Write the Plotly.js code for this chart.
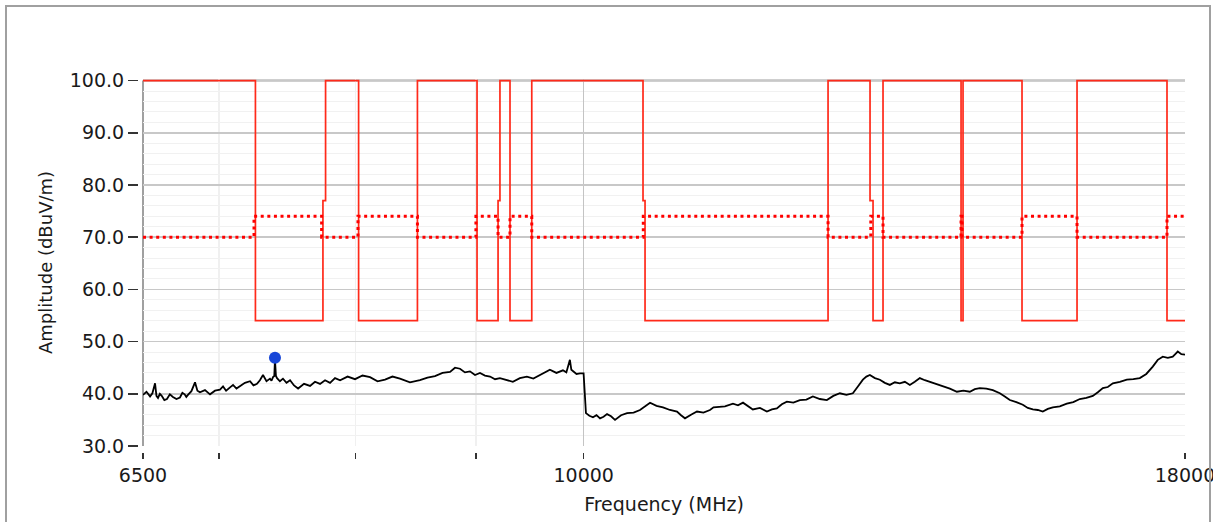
<!DOCTYPE html>
<html>
<head>
<meta charset="utf-8">
<script src="https://cdn.plot.ly/plotly-3.0.1.min.js"></script>
<style>html,body{margin:0;padding:0;background:#fff;}#chart{width:1213px;height:522px;}</style>
</head>
<body>
<div id="chart"></div>
<script>
// ---- data ----
const limitFreq = [6500, 7255, 7255, 7750, 7750, 7770, 7770, 8025, 8025, 8500, 8500, 9010, 9010, 9197, 9197, 9214, 9214, 9305, 9305, 9505, 9505, 10597, 10597, 10618, 10618, 12698, 12698, 13230, 13230, 13269, 13269, 13399, 13399, 14461, 14461, 14489, 14489, 15349, 15349, 16197, 16197, 17686, 17686, 18000];
const limitLevel = [100, 100, 54, 54, 77, 77, 100, 100, 54, 54, 100, 100, 54, 54, 77, 77, 100, 100, 54, 54, 100, 100, 77, 77, 54, 54, 100, 100, 77, 77, 54, 54, 100, 100, 54, 54, 100, 100, 54, 54, 100, 100, 54, 54];

const avgFreq = [6500, 7245, 7245, 7740, 7740, 8020, 8020, 8500, 8500, 9000, 9000, 9197, 9197, 9305, 9305, 9505, 9505, 10600, 10600, 12698, 12698, 13240, 13240, 13399, 13399, 14461, 14461, 14475, 14475, 15349, 15349, 16197, 16197, 17686, 17686, 18000];
const avgLevel = [70, 70, 74, 74, 70, 70, 74, 74, 70, 70, 74, 74, 70, 70, 74, 74, 70, 70, 74, 74, 70, 70, 74, 74, 70, 70, 74, 74, 70, 70, 74, 74, 70, 70, 74, 74];

const measFreq = [6500, 6522, 6545, 6560, 6577, 6586, 6596, 6608, 6620, 6637, 6654, 6673, 6693, 6716, 6739, 6755, 6770, 6781, 6792, 6815, 6839, 6855, 6872, 6906, 6940, 6974, 7008, 7029, 7050, 7074, 7098, 7122, 7146, 7181, 7217, 7241, 7266, 7287, 7309, 7334, 7359, 7370, 7381, 7390, 7395, 7402, 7410, 7431, 7453, 7479, 7505, 7534, 7564, 7608, 7653, 7690, 7728, 7766, 7804, 7842, 7881, 7939, 7997, 8056, 8115, 8175, 8235, 8295, 8356, 8438, 8521, 8584, 8647, 8711, 8775, 8818, 8861, 8904, 8948, 8992, 9036, 9080, 9125, 9170, 9214, 9272, 9331, 9395, 9460, 9520, 9581, 9628, 9675, 9737, 9799, 9832, 9866, 9880, 9895, 9930, 9964, 9999, 10022, 10056, 10091, 10126, 10161, 10196, 10231, 10271, 10311, 10372, 10433, 10500, 10566, 10618, 10670, 10738, 10806, 10880, 10955, 10998, 11041, 11106, 11171, 11242, 11314, 11353, 11392, 11481, 11571, 11628, 11685, 11741, 11798, 11880, 11961, 12020, 12078, 12137, 12197, 12275, 12353, 12432, 12511, 12597, 12683, 12764, 12846, 12928, 13010, 13074, 13138, 13183, 13228, 13293, 13358, 13423, 13489, 13555, 13621, 13688, 13755, 13822, 13890, 13958, 14027, 14116, 14206, 14304, 14402, 14494, 14586, 14657, 14729, 14823, 14917, 14968, 15020, 15093, 15167, 15264, 15361, 15436, 15512, 15588, 15664, 15741, 15818, 15927, 16036, 16138, 16241, 16345, 16449, 16530, 16611, 16692, 16774, 16889, 17005, 17113, 17222, 17332, 17442, 17527, 17613, 17700, 17786, 17830, 17873, 17936, 18000];
const measLevel = [39.8, 40.4, 39.5, 40.1, 42.0, 39.6, 39.2, 40.0, 39.6, 38.8, 39.0, 39.9, 39.4, 39.0, 39.3, 40.2, 39.9, 39.4, 39.8, 40.5, 42.2, 40.6, 40.3, 40.7, 39.9, 40.6, 40.8, 41.4, 40.6, 41.1, 41.7, 41.0, 41.4, 42.1, 42.4, 41.6, 41.9, 42.6, 43.6, 42.4, 42.9, 42.5, 43.2, 43.4, 46.5, 43.4, 43.0, 42.4, 42.9, 42.1, 42.6, 41.6, 41.0, 41.9, 41.5, 42.3, 41.9, 42.6, 42.1, 43.0, 42.6, 43.3, 42.8, 43.5, 43.2, 42.4, 42.7, 43.3, 42.9, 42.2, 42.6, 43.1, 43.4, 44.0, 44.2, 45.0, 44.8, 44.1, 44.3, 43.6, 44.0, 43.5, 43.3, 42.8, 43.0, 42.6, 42.3, 43.0, 43.3, 42.9, 43.6, 44.1, 44.6, 44.0, 44.5, 44.1, 46.5, 44.6, 44.4, 43.8, 43.9, 43.9, 36.3, 35.8, 35.5, 35.9, 35.3, 35.6, 36.1, 35.7, 35.0, 35.9, 36.3, 36.4, 36.9, 37.6, 38.3, 37.7, 37.4, 36.9, 36.6, 35.9, 35.3, 36.0, 36.6, 36.4, 36.9, 37.4, 37.5, 37.6, 38.1, 37.8, 38.3, 37.6, 37.0, 37.3, 36.6, 37.0, 37.2, 38.0, 38.5, 38.3, 38.8, 38.9, 39.5, 39.0, 38.8, 39.6, 40.1, 39.8, 40.1, 41.4, 42.7, 43.3, 43.6, 43.0, 42.7, 42.1, 41.7, 42.2, 42.0, 42.3, 41.7, 42.3, 43.0, 42.6, 42.3, 41.8, 41.4, 41.0, 40.4, 40.6, 40.4, 40.9, 41.1, 41.0, 40.7, 40.4, 40.1, 39.5, 38.8, 38.4, 37.9, 37.3, 37.0, 36.9, 36.6, 37.1, 37.4, 37.6, 38.1, 38.4, 39.0, 39.2, 39.6, 40.3, 41.1, 41.3, 42.0, 42.3, 42.7, 42.8, 43.0, 43.8, 45.2, 46.5, 47.1, 46.9, 47.1, 47.6, 48.1, 47.6, 47.5];

const peakFreq = [7395];
const peakLevel = [46.9];

const xTickVals = [6500, 10000, 18000];
const xTickText = ['6500', '10000', '18000'];
const xMinorVals = [7000, 8000, 9000];
const yTickVals = [30, 40, 50, 60, 70, 80, 90, 100];
const yTickText = ['30.0', '40.0', '50.0', '60.0', '70.0', '80.0', '90.0', '100.0'];

// ---- chart ----
const FONT = 'DejaVu Sans, Verdana, sans-serif';
const traces = [
  {x: limitFreq, y: limitLevel, type: 'scatter', mode: 'lines',
   line: {color: '#ff2a1a', width: 1.7}},
  {x: avgFreq, y: avgLevel, type: 'scatter', mode: 'lines',
   line: {color: '#ff0000', width: 3, dash: '3px,3.6px'}},
  {x: measFreq, y: measLevel, type: 'scatter', mode: 'lines',
   line: {color: '#000000', width: 1.8}},
  {x: peakFreq, y: peakLevel, type: 'scatter', mode: 'markers',
   marker: {color: '#1746d8', size: 12}}
];

const layout = {
  width: 1213, height: 522,
  margin: {l: 138, r: 28, t: 79, b: 70, pad: 0},
  paper_bgcolor: '#ffffff', plot_bgcolor: '#ffffff',
  showlegend: false, hovermode: false,
  font: {family: FONT, color: '#1a1a1a', size: 19},
  xaxis: {
    type: 'log',
    range: [Math.log10(6500), Math.log10(18000)],
    domain: [0.004776, 1],
    anchor: 'free', position: 0,
    tickmode: 'array', tickvals: xTickVals, ticktext: xTickText,
    ticks: 'outside', ticklen: 6, tickwidth: 1.5, tickcolor: '#333',
    ticklabeloverflow: 'allow',
    showgrid: true, gridcolor: '#c4c4c4', gridwidth: 1.5,
    minor: {tickmode: 'array', tickvals: xMinorVals, ticks: 'outside', ticklen: 6,
            tickwidth: 1.5, tickcolor: '#333', showgrid: true, gridcolor: '#f0f0f0', gridwidth: 1.5},
    showline: false, zeroline: false,
    tickfont: {family: FONT, size: 19, color: '#1a1a1a'},
    title: {text: 'Frequency (MHz)', font: {family: FONT, size: 19, color: '#1a1a1a'}, standoff: 12}
  },
  yaxis: {
    range: [30, 100.3],
    domain: [0.01609, 1],
    anchor: 'free', position: 0,
    tickmode: 'array', tickvals: yTickVals, ticktext: yTickText,
    ticks: 'outside', ticklen: 10, tickwidth: 1.5, tickcolor: '#333',
    showgrid: true, gridcolor: '#c8c8c8', gridwidth: 1.5,
    minor: {dtick: 2, ticks: '', showgrid: true, gridcolor: '#f1f1f1', gridwidth: 1},
    showline: false, zeroline: false,
    tickfont: {family: FONT, size: 19, color: '#1a1a1a'},
    title: {text: 'Amplitude (dBuV/m)', font: {family: FONT, size: 18, color: '#1a1a1a'}, standoff: 11}
  },
  shapes: [
    {type: 'line', xref: 'x domain', yref: 'y', x0: 0, x1: 0, y0: 30, y1: 100,
     line: {color: '#a0a0a0', width: 2}, layer: 'below'},
    {type: 'line', xref: 'x domain', yref: 'y', x0: 0, x1: 1, y0: 100, y1: 100,
     line: {color: '#a0a0a0', width: 2}, layer: 'below'},
    {type: 'rect', xref: 'paper', yref: 'paper', x0: -0.12607, x1: 1.02388, y0: -0.20912, y1: 1.19571,
     line: {color: '#a0a0a0', width: 2}, fillcolor: 'rgba(0,0,0,0)'}
  ]
};

Plotly.newPlot('chart', traces, layout, {staticPlot: true, displayModeBar: false});
</script>
</body>
</html>
